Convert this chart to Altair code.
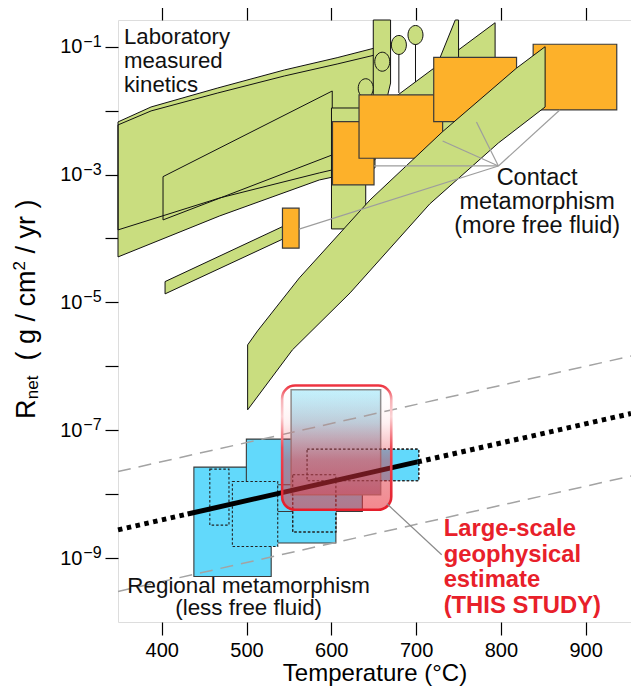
import altair as alt
import pandas as pd

# ---------------- data (temperature in deg C, rates as log10 exponents) ----------------
T_MIN, T_MAX = 348.4, 953.5
L_MIN, L_MAX = -10.0, -0.5825

# Laboratory measured kinetics (green fields)
band_a_T = [348.4, 387.4, 466.1, 544.7, 606.9, 651.5, 651.5, 585.8, 468.4, 348.4]
band_a_L = [-2.177, -1.943, -1.646, -1.364, -1.172, -1.020, -2.772, -2.975, -3.366, -3.866]
band_b_T = [348.4, 387.4, 466.1, 544.7, 606.9, 651.5, 651.5, 585.8, 468.4, 348.4]
band_b_L = [-2.224, -2.005, -1.724, -1.458, -1.271, -1.130, -2.897, -3.085, -3.647, -4.289]
wedge_T = [401.5, 601.1, 601.1, 401.5]
wedge_L = [-3.033, -1.693, -2.693, -3.710]
strip_T = [403.9, 542.4, 542.4, 403.9]
strip_L = [-4.675, -3.815, -4.012, -4.867]
col_T = [600.2, 640.6, 640.6, 600.2]
col_L = [-1.959, -1.959, -3.851, -3.851]
vert_T = [649.5, 669.9, 669.9, 666.0, 649.5]
vert_L = [-0.5825, -0.5825, -1.568, -1.787, -1.787]
hband_T = [673.8, 793.2, 793.2, 709.0]
hband_L = [-1.802, -0.625, -2.021, -2.615]
tri_T = [746.2, 750.1, 750.1, 724.3]
tri_L = [-0.5825, -0.5825, -1.302, -1.302]
big_T = [501.3, 501.3, 513.0, 562.3, 645.7, 731.3, 818.2, 852.2, 852.2, 797.1, 716.1, 622.2, 554.1]
big_L = [-6.681, -5.665, -5.446, -4.617, -3.397, -2.329, -1.338, -1.000, -1.943, -2.506, -3.460, -4.851, -5.743]
circ_low_T, circ_low_L = [640.6], [-1.650]
circ_T = [660.1, 679.7, 699.3]
circ_L = [-1.235, -0.973, -0.817]
stem_T = [679.7, 699.3]
stem_L1 = [-1.114, -0.958]
stem_L2 = [-1.724, -1.552]

# Contact metamorphism (orange)
orange_T1 = [542.4, 601.4, 632.7, 720.8, 838.1]
orange_T2 = [562.0, 650.4, 731.3, 818.5, 936.7]
orange_L1 = [-3.527, -2.173, -1.755, -1.166, -0.962]
orange_L2 = [-4.152, -3.163, -2.745, -2.173, -1.990]
hub_T, hub_L = 797.1, -2.866
lead_T = [650.4, 731.3, 771.2, 869.5, 562.0]
lead_L = [-2.866, -2.475, -2.177, -1.990, -3.855]

# Regional metamorphism (blue)
blue_T1 = [437.9, 499.8, 536.5]
blue_T2 = [529.1, 605.4, 636.6]
blue_L1 = [-7.577, -7.139, -7.854]
blue_L2 = [-9.288, -8.765, -8.271]
dot_T1 = [456.7, 483.3, 554.5, 571.4]
dot_T2 = [479.3, 536.8, 605.4, 703.2]
dot_L1 = [-7.608, -7.802, -7.697, -7.296]
dot_L2 = [-8.484, -8.819, -8.593, -7.791]

# This study
inner_T = [552.6, 658.2]
inner_L = [-6.368, -8.010]
box_T = [542.0, 670.7]
box_L = [-6.301, -8.245]
pointer_T = [665.6, 730.2]
pointer_L = [-8.151, -8.948]

# trend line and envelope
trend_left_T, trend_left_L = [348.4, 430.5], [-8.558, -8.311]
trend_mid_T, trend_mid_L = [430.5, 701.6], [-8.311, -7.496]
trend_right_T, trend_right_L = [701.6, 953.5], [-7.496, -6.739]
env_up_T, env_up_L = [348.4, 953.5], [-7.646, -5.840]
env_lo_T, env_lo_L = [348.4, 953.5], [-9.522, -7.716]

# labels (first-line anchor in data units)
lab_text, lab_T, lab_L = "Laboratory\nmeasured\nkinetics", 355.5, -0.965
con_text, con_T, con_L = "Contact\nmetamorphism\n(more free fluid)", 842.8, -3.163
reg_text, reg_T, reg_L = "Regional metamorphism\n(less free fluid)", 502.5, -9.540
std_text, std_T, std_L = "Large-scale\ngeophysical\nestimate\n(THIS STUDY)", 732.5, -8.651

x_ticks = [400, 500, 600, 700, 800, 900]
y_exps = [-9, -8, -7, -6, -5, -4, -3, -2, -1]
y_label_exps = [-1, -3, -5, -7, -9]

# ---------------- styling ----------------
GREEN = "#c9dd7f"
ORANGE = "#fdb12a"
BLUE = "#62d9fb"
RED = "#e8202a"
FONT = "Liberation Sans"

xs = alt.Scale(domain=[T_MIN, T_MAX], nice=False, zero=False)
ys = alt.Scale(type="log", domain=[10 ** L_MIN, 10 ** L_MAX], nice=False)


def X(f="T"):
    return alt.X(f"{f}:Q", scale=xs, axis=None)


def Y(f="R"):
    return alt.Y(f"{f}:Q", scale=ys, axis=None)


def poly(T, L, fill=None, stroke="#111111", sw=1.0):
    df = pd.DataFrame({"T": list(T) + [T[0]],
                       "R": [10 ** v for v in L] + [10 ** L[0]],
                       "i": list(range(len(T) + 1))})
    kw = dict(strokeWidth=sw, strokeJoin="miter")
    kw["stroke"] = stroke if stroke else "transparent"
    if fill:
        kw["fill"] = fill
    return alt.Chart(df).mark_line(**kw).encode(x=X(), y=Y(), order="i:Q")


def rects(T1, T2, L1, L2, **kw):
    df = pd.DataFrame({"T": T1, "T2": T2,
                       "R": [10 ** v for v in L1], "R2": [10 ** v for v in L2]})
    return alt.Chart(df).mark_rect(**kw).encode(x=X(), x2="T2:Q", y=Y(), y2="R2:Q")


def line(T, L, **kw):
    df = pd.DataFrame({"T": T, "R": [10 ** v for v in L]})
    return alt.Chart(df).mark_line(**kw).encode(x=X(), y=Y())


def block(text, T, L, **kw):
    df = pd.DataFrame({"t": [text], "T": [T], "R": [10 ** L]})
    return alt.Chart(df).mark_text(font=FONT, baseline="alphabetic", lineBreak="\n", **kw).encode(
        x=X(), y=Y(), text="t:N")


ELLIPSE = "M -0.79,0 A 0.79,1 0 1,0 0.79,0 A 0.79,1 0 1,0 -0.79,0 Z"


def ellipses(T, L):
    df = pd.DataFrame({"T": T, "R": [10 ** v for v in L]})
    return alt.Chart(df).mark_point(shape=ELLIPSE, size=361, filled=True, fill=GREEN,
                                    stroke="#111111", strokeWidth=1, opacity=1).encode(x=X(), y=Y())


layers = []
# green lab-kinetics fields: fills, then outlines
lab_polys = [(band_a_T, band_a_L), (band_b_T, band_b_L), (wedge_T, wedge_L), (strip_T, strip_L)]
for T, L in lab_polys:
    layers.append(poly(T, L, fill=GREEN, stroke=None))
for T, L in lab_polys:
    layers.append(poly(T, L, fill=None))
layers.append(poly(col_T, col_L, fill=GREEN))
layers.append(poly(vert_T, vert_L, fill=GREEN))
layers.append(ellipses(circ_low_T, circ_low_L))
layers.append(poly(hband_T, hband_L, fill=GREEN))
layers.append(poly(tri_T, tri_L, fill=GREEN))
stem_df = pd.DataFrame({"T": stem_T, "R": [10 ** v for v in stem_L1], "R2": [10 ** v for v in stem_L2]})
layers.append(alt.Chart(stem_df).mark_rule(color="#111111", strokeWidth=1).encode(x=X(), y=Y(), y2="R2:Q"))
layers.append(ellipses(circ_T, circ_L))
# contact metamorphism
layers.append(rects(orange_T1, orange_T2, orange_L1, orange_L2, fill=ORANGE, stroke="#3a3a3a", strokeWidth=1.2))
layers.append(poly(big_T, big_L, fill=GREEN))
lead_df = pd.DataFrame({"T": lead_T, "R": [10 ** v for v in lead_L],
                        "T2": [hub_T] * len(lead_T), "R2": [10 ** hub_L] * len(lead_T)})
layers.append(alt.Chart(lead_df).mark_rule(color="#9d9d9d", strokeWidth=1.2).encode(
    x=X(), y=Y(), x2="T2:Q", y2="R2:Q"))

# regional metamorphism
layers.append(rects(blue_T1, blue_T2, blue_L1, blue_L2, fill=BLUE, stroke="#3a3a3a", strokeWidth=1.1))
layers.append(rects(dot_T1, dot_T2, dot_L1, dot_L2, fill=BLUE, stroke="#222222", strokeWidth=1.1,
                    strokeDash=[2.5, 2]))
inner_grad = alt.Gradient(gradient="linear", x1=0, x2=0, y1=0, y2=1,
                          stops=[alt.GradientStop(color="#c3f1fd", offset=0),
                                 alt.GradientStop(color="#b6cad8", offset=0.45),
                                 alt.GradientStop(color="#9a94ae", offset=1)])
layers.append(rects([inner_T[0]], [inner_T[1]], [inner_L[0]], [inner_L[1]],
                    fill=inner_grad, stroke="#8a8a8a", strokeWidth=1.5))
layers.append(rects(dot_T1[2:], dot_T2[2:], dot_L1[2:], dot_L2[2:], fill="transparent",
                    stroke="#222222", strokeWidth=1.1, strokeDash=[2.5, 2]))

# envelope & trend
for T, L in [(env_up_T, env_up_L), (env_lo_T, env_lo_L)]:
    layers.append(line(T, L, color="#a3a3a3", strokeWidth=1.5, strokeDash=[13, 8]))
layers.append(line(trend_left_T, trend_left_L, color="black", strokeWidth=5, strokeDash=[4.5, 4.5]))
layers.append(line(trend_right_T, trend_right_L, color="black", strokeWidth=5, strokeDash=[4.5, 4.5]))
layers.append(line(trend_mid_T, trend_mid_L, color="black", strokeWidth=5))

# red rounded box of this study
box_fill = alt.Gradient(gradient="linear", x1=0, x2=0, y1=0, y2=1,
                        stops=[alt.GradientStop(color="rgba(255,255,255,0)", offset=0),
                               alt.GradientStop(color="rgba(240,70,80,0.08)", offset=0.3),
                               alt.GradientStop(color="rgba(215,50,65,0.45)", offset=0.6),
                               alt.GradientStop(color="rgba(235,50,60,0.58)", offset=1)])
box_stroke = alt.Gradient(gradient="linear", x1=0, x2=0, y1=0, y2=1,
                          stops=[alt.GradientStop(color="#ee3340", offset=0),
                                 alt.GradientStop(color="#f7b3b8", offset=0.12),
                                 alt.GradientStop(color="#fbd3d5", offset=0.25),
                                 alt.GradientStop(color="#ef4652", offset=0.5),
                                 alt.GradientStop(color="#e41e2b", offset=1)])
layers.append(rects([box_T[0]], [box_T[1]], [box_L[0]], [box_L[1]],
                    fill=box_fill, stroke=box_stroke, strokeWidth=2.6, cornerRadius=13))
layers.append(line(pointer_T, pointer_L, color="#8a8a8a", strokeWidth=1.2))

# annotation texts
layers.append(block(lab_text, lab_T, lab_L, align="left", fontSize=22.2, lineHeight=23.6, color="#111111"))
layers.append(block(con_text, con_T, con_L, align="center", fontSize=23.5, lineHeight=24, color="#111111"))
layers.append(block(reg_text, reg_T, reg_L, align="center", fontSize=22.4, lineHeight=22.6, color="#111111"))
layers.append(block(std_text, std_T, std_L, align="left", fontSize=23.8, lineHeight=25.8,
                    fontWeight="bold", color=RED))

# axes
axis_df = pd.DataFrame({"T": [500.0], "R": [1e-5]})
left_axis = alt.Axis(orient="left", values=[10.0 ** e for e in y_exps],
                     labelExpr="(round(log(datum.value)/LN10) % 2 != 0) ? '10' : ''",
                     tickSize=13, tickWidth=1.2, tickColor="black", domain=False, grid=False,
                     labelFontSize=20, labelFont=FONT, labelColor="black", labelPadding=23,
                     labelOverlap=False, labelBaseline="middle", title=None)
bottom_axis = alt.Axis(orient="bottom", values=x_ticks, format="d", tickSize=13, tickWidth=1.2,
                       tickColor="black", domain=False, grid=False, labelFontSize=20, labelFont=FONT,
                       labelColor="black", labelPadding=5, labelOverlap=False,
                       title="Temperature (°C)", titleFont=FONT, titleFontSize=24,
                       titleFontWeight="normal", titleColor="black", titlePadding=1)
top_axis = alt.Axis(orient="top", values=x_ticks, labels=False, tickSize=13, tickWidth=1.2,
                    tickColor="black", domain=False, grid=False, title=None)
right_axis = alt.Axis(orient="right", values=[10.0 ** e for e in y_exps], labels=False, tickSize=9,
                      tickWidth=1.2, tickColor="black", domain=False, grid=False, title=None)
layers.append(alt.Chart(axis_df).mark_point(opacity=0).encode(
    x=alt.X("T:Q", scale=xs, axis=bottom_axis), y=alt.Y("R:Q", scale=ys, axis=left_axis)))
layers.append(alt.Chart(axis_df).mark_point(opacity=0).encode(
    x=alt.X("T:Q", scale=xs, axis=top_axis), y=alt.Y("R:Q", scale=ys, axis=right_axis)))

# exponents of the y tick labels
exp_df = pd.DataFrame({"e": ["\u2212" + str(-e) for e in y_label_exps],
                       "R": [10.0 ** e for e in y_label_exps]})
layers.append(alt.Chart(exp_df).mark_text(font=FONT, fontSize=16, align="left", baseline="alphabetic",
                                          color="black").encode(
    x=alt.value(-34.7), y=Y(), text="e:N"))

# y axis title in pieces: R_net ( g / cm^2 / yr )
one = pd.DataFrame({"a": [0]})
title_pieces = [("R", 27, 0, 0), ("net", 17, 19.8, 3), ("( g / cm", 27, 58.4, 0),
                ("2", 17, 148.6, -10), ("/ yr )", 27, 165.6, 0)]
for txt, fs, dx, dy in title_pieces:
    layers.append(alt.Chart(one).mark_text(text=txt, font=FONT, fontSize=fs, angle=270, align="left",
                                           baseline="alphabetic", dx=dx, dy=dy, color="black").encode(
        x=alt.value(-82.7), y=alt.value(399)))

chart = alt.layer(*layers).resolve_axis(x="independent", y="independent").properties(
    width=513, height=602,
    padding={"left": 110, "top": 12, "right": 0, "bottom": 66},
    autosize=alt.AutoSizeParams(type="none"),
).configure_view(stroke="black", strokeWidth=1.3).configure(font=FONT)

chart.save("out.html", embed_options={"renderer": "svg", "actions": False})
